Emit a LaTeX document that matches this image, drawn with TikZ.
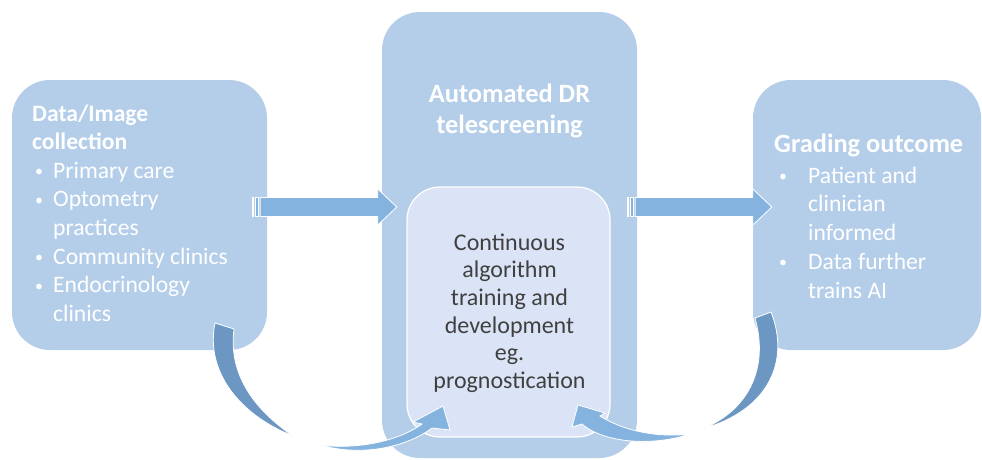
\documentclass[tikz,border=0pt]{standalone}
\usepackage{fontspec}
\setmainfont{Carlito}
\usepackage{tikz}
\usetikzlibrary{calc, positioning}

\definecolor{boxblue}{RGB}{180,206,234}
\definecolor{coreblue}{RGB}{219,228,246}
\definecolor{arrowblue}{RGB}{133,179,223}
\definecolor{curlblue}{RGB}{108,151,194}
\definecolor{coretext}{RGB}{64,64,64}

\newcommand{\smallbul}{\raisebox{1.5pt}{\fontsize{16}{16}\selectfont•}}
\newcommand{\listbul}{\makebox[21pt][l]{\hspace{3pt}\smallbul}}
\newcommand{\listind}{\hspace*{21pt}}
\newcommand{\widebul}{\makebox[32pt][l]{\hspace{3pt}\smallbul}}
\newcommand{\wideind}{\hspace*{32pt}}

\begin{document}
\begin{tikzpicture}[x=1pt, y=-1pt]
    % --- Canvas ---
    \path[fill=white, use as bounding box] (0,0) rectangle (982,459);

    % --- Styles ---
    \tikzstyle{stage_box}=[fill=boxblue, rounded corners=38pt, inner sep=0pt]
    \tikzstyle{core_box}=[
        fill=coreblue,
        draw=white,
        line width=1.2pt,
        rounded corners=33pt,
        inner sep=0pt
    ]
    \tikzstyle{block_arrow}=[fill=arrowblue, draw=white, line width=0.8pt]
    \tikzstyle{curl_back}=[fill=curlblue, draw=white, line width=0.8pt]
    \tikzstyle{title_text}=[text=white, font=\fontsize{26.4}{31}\selectfont\bfseries, align=center, inner sep=0pt]
    \tikzstyle{list_text}=[text=white, font=\fontsize{23.6}{28.6}\selectfont, align=left, inner sep=0pt]
    \tikzstyle{core_text}=[text=coretext, font=\fontsize{24}{27.6}\selectfont, align=center, inner sep=0pt]

    % --- 1. The three stages ---
    \node[stage_box, minimum width=255pt, minimum height=270pt] (collect) at (139.5,215) {};
    \node[stage_box, minimum width=255pt, minimum height=446pt] (screen) at (509.5,235) {};
    \node[stage_box, minimum width=228pt, minimum height=270pt] (outcome) at (867,215) {};

    % inner training box
    \node[core_box, minimum width=203pt, minimum height=250pt] (training) at (508.5,312) {};

    % --- 2. Straight flow arrows ---
    \coordinate (in_tail) at ($(collect.east)+(-15,-8)$);
    \coordinate (in_tip) at ($(in_tail -| screen.west)+(15,0)$);
    \coordinate (out_tail) at ($(screen.east)+(-10,-28)$);
    \coordinate (out_tip) at ($(out_tail -| outcome.west)+(19,0)$);

    \foreach \t/\p in {in_tail/in_tip, out_tail/out_tip} {
        \path[block_arrow] (\t) ++(0,-9.5) rectangle ++(1.5,19);
        \path[block_arrow] (\t) ++(3,-9.5) rectangle ++(3.5,19);
        \path[block_arrow] ($(\t)+(8,-9.5)$) -- ($(\p)+(-19,-9.5)$) -- ($(\p)+(-19,-18)$) -- (\p)
            -- ($(\p)+(-19,18)$) -- ($(\p)+(-19,9.5)$) -- ($(\t)+(8,9.5)$) -- cycle;
    }

    % --- 3. Feedback curls into the training box ---
    % left: from data collection
    \path[curl_back] (215,323) .. controls (205,372) and (240,415) .. (293,436)
        .. controls (255,410) and (228,375) .. (234,329) -- cycle;
    \path[block_arrow] (320,445) .. controls (365,458) and (410,445) .. (432,428)
        -- (450,430) -- (443,406) -- (413,422) -- (422,424)
        .. controls (400,440) and (360,450) .. (320,445) -- cycle;

    % right: from grading outcome
    \path[curl_back] (771,312) .. controls (790,360) and (770,410) .. (702,429)
        .. controls (745,412) and (770,372) .. (755,318) -- cycle;
    \path[block_arrow] (690,434) .. controls (655,438) and (622,430) .. (600,416)
        -- (605,413) -- (578,405) -- (572,427) -- (582,424)
        .. controls (605,444) and (655,446) .. (690,434) -- cycle;

    % --- 4. Texts ---
    \node[list_text, anchor=north west] (collect_text) at (32,100.9) {
        \strut\textbf{Data/Image}\\
        \textbf{collection}\\
        \listbul Primary care\\
        \listbul Optometry\\
        \listind practices\\
        \listbul Community clinics\\
        \listbul Endocrinology\\
        \listind clinics
    };

    \node[title_text, anchor=north] (screen_title) at (509.5,80.3) {
        \strut Automated DR\\
        telescreening
    };

    \node[core_text, anchor=north] (training_text) at (509.5,230.7) {
        \strut Continuous\\
        algorithm\\
        training and\\
        development\\
        eg.\\
        prognostication
    };

    \node[title_text, anchor=north west] (outcome_title) at (774,130.3) {\strut Grading outcome};
    \node[list_text, anchor=north west, font=\fontsize{23.6}{28.75}\selectfont] (outcome_text) at (776,162.9) {
        \strut\widebul Patient and\\
        \wideind clinician\\
        \wideind informed\\
        \widebul Data further\\
        \wideind trains AI
    };

\end{tikzpicture}
\end{document}
